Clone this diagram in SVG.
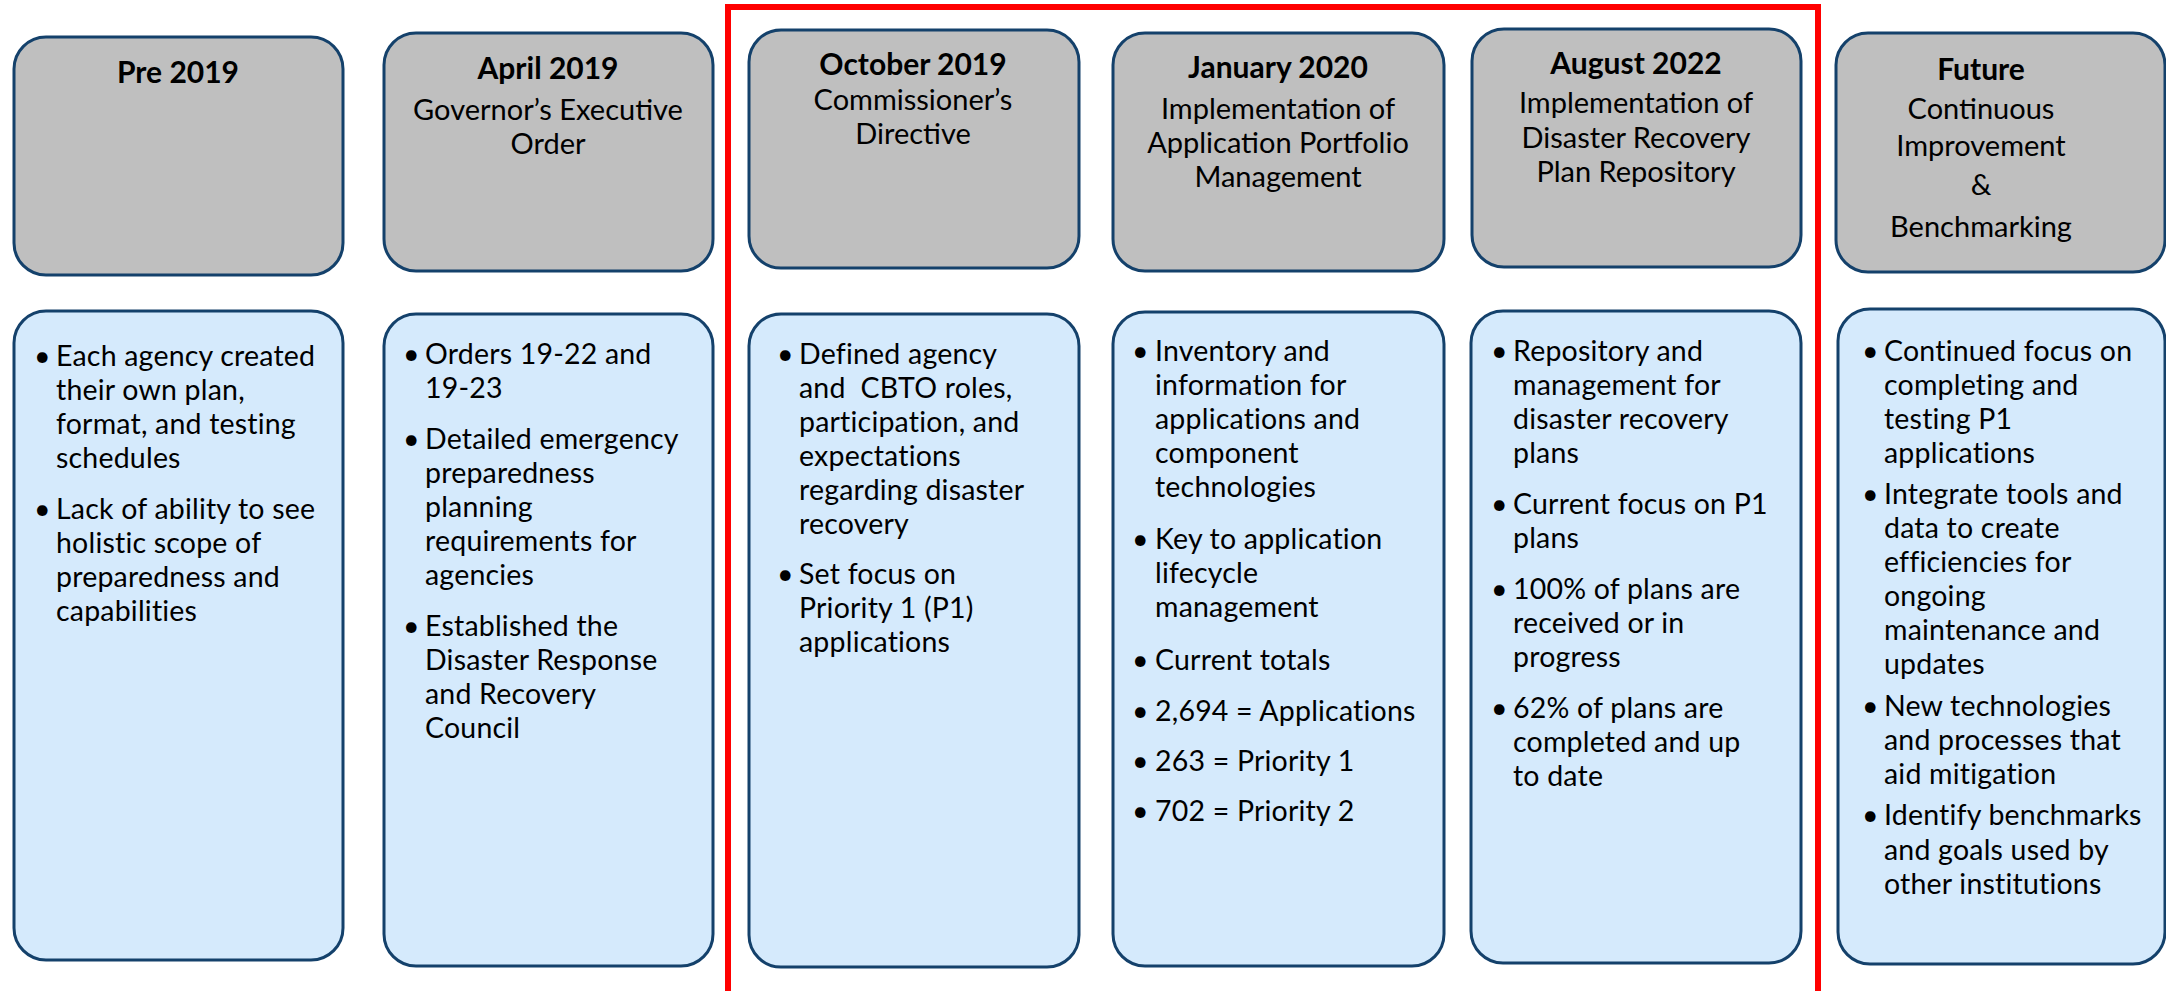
<svg xmlns="http://www.w3.org/2000/svg" width="2166" height="991" viewBox="0 0 2166 991">
<style>
.hd{fill:#BFBFBF;stroke:#14416B;stroke-width:3}
.bd{fill:#D5EAFC;stroke:#14416B;stroke-width:3}
text{font-family:Lato,"Liberation Sans",sans-serif;fill:#000}
.t{font-size:30px;font-weight:bold;text-anchor:middle}
.s{font-size:29px;text-anchor:middle}
.b{font-size:28.5px;letter-spacing:0.2px}
</style>
<rect width="2166" height="991" fill="#fff"/>
<g id="frame"><path d="M728,1000 V7 H1818 V1000" fill="none" stroke="#FF0000" stroke-width="6"/></g>

<g id="h1"><rect class="hd" x="14" y="37" width="329" height="238" rx="32"/>
<text class="t" x="178" y="83">Pre 2019</text></g>
<g id="h2"><rect class="hd" x="384" y="33" width="329" height="238" rx="32"/>
<text class="t" x="548" y="79">April 2019</text>
<text class="s" x="548" y="120">Governor’s Executive</text>
<text class="s" x="548" y="154">Order</text></g>
<g id="h3"><rect class="hd" x="749" y="30" width="330" height="238" rx="32"/>
<text class="t" x="913" y="75">October 2019</text>
<text class="s" x="913" y="110">Commissioner’s</text>
<text class="s" x="913" y="144">Directive</text></g>
<g id="h4"><rect class="hd" x="1113" y="33" width="331" height="238" rx="32"/>
<text class="t" x="1278" y="78">January 2020</text>
<text class="s" x="1278" y="119">Implementation of</text>
<text class="s" x="1278" y="153">Application Portfolio</text>
<text class="s" x="1278" y="187">Management</text></g>
<g id="h5"><rect class="hd" x="1472" y="29" width="329" height="238" rx="32"/>
<text class="t" x="1636" y="74">August 2022</text>
<text class="s" x="1636" y="113">Implementation of</text>
<text class="s" x="1636" y="148">Disaster Recovery</text>
<text class="s" x="1636" y="182">Plan Repository</text></g>
<g id="h6"><rect class="hd" x="1836" y="33" width="329" height="239" rx="32"/>
<text class="t" x="1981" y="80">Future</text>
<text class="s" x="1981" y="119">Continuous</text>
<text class="s" x="1981" y="156">Improvement</text>
<text class="s" x="1981" y="195">&amp;</text>
<text class="s" x="1981" y="237">Benchmarking</text></g>

<g id="b1"><rect class="bd" x="14" y="311" width="329" height="649" rx="32"/>
<text class="b"><tspan x="34" y="366">•</tspan><tspan x="56" y="366">Each agency created</tspan><tspan x="56" y="400">their own plan,</tspan><tspan x="56" y="434">format, and testing</tspan><tspan x="56" y="468">schedules</tspan>
<tspan x="34" y="519">•</tspan><tspan x="56" y="519">Lack of ability to see</tspan><tspan x="56" y="553">holistic scope of</tspan><tspan x="56" y="587">preparedness and</tspan><tspan x="56" y="621">capabilities</tspan></text></g>

<g id="b2"><rect class="bd" x="384" y="314" width="329" height="652" rx="32"/>
<text class="b"><tspan x="403" y="364">•</tspan><tspan x="425" y="364">Orders 19-22 and</tspan><tspan x="425" y="398">19-23</tspan>
<tspan x="403" y="449">•</tspan><tspan x="425" y="449">Detailed emergency</tspan><tspan x="425" y="483">preparedness</tspan><tspan x="425" y="517">planning</tspan><tspan x="425" y="551">requirements for</tspan><tspan x="425" y="585">agencies</tspan>
<tspan x="403" y="636">•</tspan><tspan x="425" y="636">Established the</tspan><tspan x="425" y="670">Disaster Response</tspan><tspan x="425" y="704">and Recovery</tspan><tspan x="425" y="738">Council</tspan></text></g>

<g id="b3"><rect class="bd" x="749" y="314" width="330" height="653" rx="32"/>
<text class="b"><tspan x="777" y="364">•</tspan><tspan x="799" y="364">Defined agency</tspan><tspan x="799" y="398" xml:space="preserve">and  CBTO roles,</tspan><tspan x="799" y="432">participation, and</tspan><tspan x="799" y="466">expectations</tspan><tspan x="799" y="500">regarding disaster</tspan><tspan x="799" y="534">recovery</tspan>
<tspan x="777" y="584">•</tspan><tspan x="799" y="584">Set focus on</tspan><tspan x="799" y="618">Priority 1 (P1)</tspan><tspan x="799" y="652">applications</tspan></text></g>

<g id="b4"><rect class="bd" x="1113" y="312" width="331" height="654" rx="32"/>
<text class="b"><tspan x="1132" y="361">•</tspan><tspan x="1155" y="361">Inventory and</tspan><tspan x="1155" y="395">information for</tspan><tspan x="1155" y="429">applications and</tspan><tspan x="1155" y="463">component</tspan><tspan x="1155" y="497">technologies</tspan>
<tspan x="1132" y="549">•</tspan><tspan x="1155" y="549">Key to application</tspan><tspan x="1155" y="583">lifecycle</tspan><tspan x="1155" y="617">management</tspan>
<tspan x="1132" y="670">•</tspan><tspan x="1155" y="670">Current totals</tspan>
<tspan x="1132" y="721">•</tspan><tspan x="1155" y="721">2,694 = Applications</tspan>
<tspan x="1132" y="771">•</tspan><tspan x="1155" y="771">263 = Priority 1</tspan>
<tspan x="1132" y="821">•</tspan><tspan x="1155" y="821">702 = Priority 2</tspan></text></g>

<g id="b5"><rect class="bd" x="1471" y="311" width="330" height="652" rx="32"/>
<text class="b"><tspan x="1491" y="361">•</tspan><tspan x="1513" y="361">Repository and</tspan><tspan x="1513" y="395">management for</tspan><tspan x="1513" y="429">disaster recovery</tspan><tspan x="1513" y="463">plans</tspan>
<tspan x="1491" y="514">•</tspan><tspan x="1513" y="514">Current focus on P1</tspan><tspan x="1513" y="548">plans</tspan>
<tspan x="1491" y="599">•</tspan><tspan x="1513" y="599">100% of plans are</tspan><tspan x="1513" y="633">received or in</tspan><tspan x="1513" y="667">progress</tspan>
<tspan x="1491" y="718">•</tspan><tspan x="1513" y="718">62% of plans are</tspan><tspan x="1513" y="752">completed and up</tspan><tspan x="1513" y="786">to date</tspan></text></g>

<g id="b6"><rect class="bd" x="1838" y="309" width="327" height="655" rx="32"/>
<text class="b"><tspan x="1862" y="361">•</tspan><tspan x="1884" y="361">Continued focus on</tspan><tspan x="1884" y="395">completing and</tspan><tspan x="1884" y="429">testing P1</tspan><tspan x="1884" y="463">applications</tspan>
<tspan x="1862" y="504">•</tspan><tspan x="1884" y="504">Integrate tools and</tspan><tspan x="1884" y="538">data to create</tspan><tspan x="1884" y="572">efficiencies for</tspan><tspan x="1884" y="606">ongoing</tspan><tspan x="1884" y="640">maintenance and</tspan><tspan x="1884" y="674">updates</tspan>
<tspan x="1862" y="716">•</tspan><tspan x="1884" y="716">New technologies</tspan><tspan x="1884" y="750">and processes that</tspan><tspan x="1884" y="784">aid mitigation</tspan>
<tspan x="1862" y="825">•</tspan><tspan x="1884" y="825">Identify benchmarks</tspan><tspan x="1884" y="860">and goals used by</tspan><tspan x="1884" y="894">other institutions</tspan></text></g>
</svg>
